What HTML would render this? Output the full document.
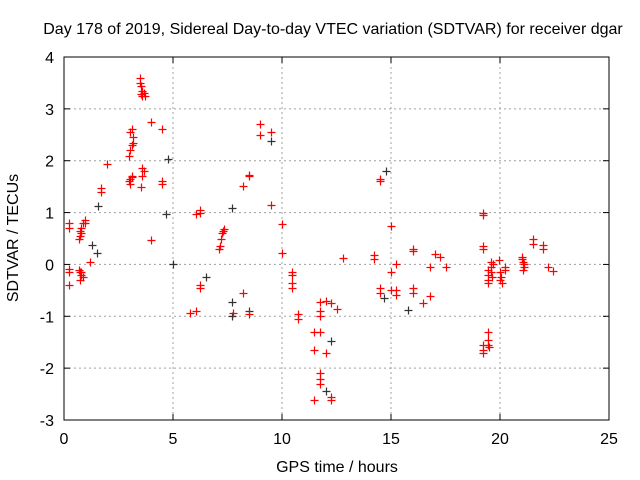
<!DOCTYPE html>
<html><head><meta charset="utf-8"><style>
body{margin:0;background:#fff;}
svg{display:block;font-family:"Liberation Sans",sans-serif;}
</style></head><body>
<svg id="chart" width="640" height="480" xmlns="http://www.w3.org/2000/svg">
<rect width="640" height="480" fill="#fff"/>
<text x="333" y="34" font-size="16" text-anchor="middle">Day 178 of 2019, Sidereal Day-to-day VTEC variation (SDTVAR) for receiver dgar</text>
<text x="0" y="0" font-size="16" text-anchor="middle" transform="translate(18,238) rotate(-90)">SDTVAR / TECUs</text>
<text x="337" y="472" font-size="16" text-anchor="middle">GPS time / hours</text>
<g id="grid"></g><g id="axes"></g><g id="marks"></g>
</svg>
<script>
const xTicks=[0,5,10,15,20,25];
const yTicks=[4,3,2,1,0,-1,-2,-3];
const redHours=[0.23,0.23,0.23,0.23,0.23,0.7,0.75,0.8,0.75,0.8,0.85,0.7,0.75,0.8,0.85,0.75,0.8,0.95,0.95,1.2,1.7,1.7,1.95,3.0,3.05,3.1,3.05,3.1,3.0,3.05,3.1,3.15,3.05,3.1,3.15,3.5,3.5,3.55,3.6,3.65,3.7,3.6,3.55,3.6,3.65,3.55,3.6,4.0,4.0,4.5,4.5,4.5,5.8,6.05,6.05,6.25,6.25,6.25,6.25,7.1,7.15,7.2,7.25,7.3,7.35,7.75,8.2,8.2,8.5,8.5,8.5,9.0,9.0,9.5,9.5,10.0,10.0,10.45,10.45,10.45,10.45,10.75,10.75,11.45,11.45,11.45,11.75,11.75,11.75,11.75,11.75,11.75,11.75,12.0,12.0,12.25,12.25,12.25,12.5,12.8,14.2,14.2,14.5,14.5,14.5,14.5,15.0,15.0,15.0,15.25,15.25,15.25,16.0,16.0,16.0,16.0,16.45,16.8,16.8,17.0,17.25,17.5,19.2,19.2,19.2,19.2,19.2,19.2,19.2,19.45,19.45,19.45,19.45,19.45,19.45,19.45,19.5,19.6,19.6,19.6,19.65,19.7,19.95,20.0,20.05,20.1,20.0,20.25,20.25,21.0,21.05,21.1,21.05,21.1,21.0,21.5,21.5,21.95,21.95,22.2,22.45];
const redValues=[0.8,0.7,-0.08,-0.15,-0.4,0.5,0.55,0.6,0.65,0.7,0.8,-0.1,-0.15,-0.2,-0.25,-0.3,-0.15,0.85,0.8,0.05,1.4,1.48,1.93,1.6,1.65,1.7,1.55,1.68,2.1,2.2,2.3,2.45,2.55,2.62,2.35,3.6,3.5,3.45,3.35,3.3,3.25,3.25,3.28,1.7,1.8,1.5,1.85,2.75,0.47,2.62,1.6,1.55,-0.93,0.98,-0.9,1.05,1.0,-0.4,-0.45,0.3,0.35,0.5,0.6,0.65,0.68,-0.93,1.52,-0.55,1.72,1.7,-0.95,2.7,2.5,2.55,1.15,0.78,0.23,-0.15,-0.2,-0.35,-0.45,-0.95,-1.05,-1.3,-1.65,-2.62,-0.72,-0.9,-1.0,-1.3,-2.1,-2.2,-2.3,-1.7,-0.7,-0.75,-2.55,-2.62,-0.85,0.13,0.18,0.1,1.65,1.6,-0.45,-0.55,0.75,-0.15,-0.5,0,-0.5,-0.58,0.3,0.25,-0.45,-0.55,-0.75,-0.6,-0.05,0.2,0.15,-0.05,1.0,0.95,0.35,0.3,-1.55,-1.65,-1.7,-0.1,-0.2,-0.3,-0.35,-1.3,-1.45,-1.55,-1.6,0.05,-0.05,-0.15,-0.25,0.0,0.08,-0.15,-0.25,-0.35,-0.3,-0.05,-0.1,0.15,0.05,-0.05,-0.1,0.0,0.1,0.5,0.4,0.38,0.3,-0.05,-0.12];
const blackHours=[1.3,1.5,1.55,4.75,4.7,5.0,6.5,7.7,7.7,7.7,8.5,9.5,12.0,12.25,14.75,14.7,15.8];
const blackValues=[0.37,0.22,1.13,2.03,0.98,0.0,-0.25,1.08,-0.72,-1.0,-0.9,2.38,-2.45,-1.47,1.8,-0.65,-0.87];
const X0=64,X1=609,Y0=420,Y1=57;
const xs=h=>X0+(h-0)/(25-0)*(X1-X0);
const ys=v=>Y0-(v+3)/7*(Y0-Y1);
const NS="http://www.w3.org/2000/svg";
function mk(tag,attrs,parent){const e=document.createElementNS(NS,tag);for(const k in attrs)e.setAttribute(k,attrs[k]);parent.appendChild(e);return e;}
const grid=document.getElementById('grid'),axes=document.getElementById('axes'),marks=document.getElementById('marks');
xTicks.forEach(t=>{
  if(t>0&&t<25){const l=mk('line',{x1:xs(t),x2:xs(t),y1:Y1,y2:Y0,stroke:'#a0a0a0','stroke-dasharray':'2,3'},grid);
  
  }
  mk('line',{x1:xs(t),x2:xs(t),y1:Y0,y2:Y0-6,stroke:'#000'},axes);
  mk('line',{x1:xs(t),x2:xs(t),y1:Y1,y2:Y1+6,stroke:'#000'},axes);
  const tx=mk('text',{x:xs(t),y:Y0+24,'font-size':16,'text-anchor':'middle'},axes);tx.textContent=t;
  
  
});
yTicks.forEach(t=>{
  if(t>-3&&t<4){const l=mk('line',{x1:X0,x2:X1,y1:ys(t),y2:ys(t),stroke:'#a0a0a0','stroke-dasharray':'2,3'},grid);
  
  }
  mk('line',{x1:X0,x2:X0+6,y1:ys(t),y2:ys(t),stroke:'#000'},axes);
  mk('line',{x1:X1,x2:X1-6,y1:ys(t),y2:ys(t),stroke:'#000'},axes);
  const tx=mk('text',{x:X0-10,y:ys(t)+6,'font-size':16,'text-anchor':'end'},axes);tx.textContent=t;
  
  
});
const frame=mk('rect',{x:X0,y:Y1,width:X1-X0,height:Y0-Y1,fill:'none',stroke:'#000'},axes);


function plus(h,v,col){const x=Math.round(xs(h))+0.5,y=Math.round(ys(v))+0.5;
  const p=mk('path',{d:`M${x-4} ${y}H${x+4}M${x} ${y-4}V${y+4}`,stroke:col,'stroke-width':1.2,fill:'none'},marks);return p;}
blackHours.forEach((h,i)=>{const p=plus(h,blackValues[i],'#333');
  
  });
redHours.forEach((h,i)=>{const p=plus(h,redValues[i],'#ff0000');
  
  });
</script>
</body></html>
